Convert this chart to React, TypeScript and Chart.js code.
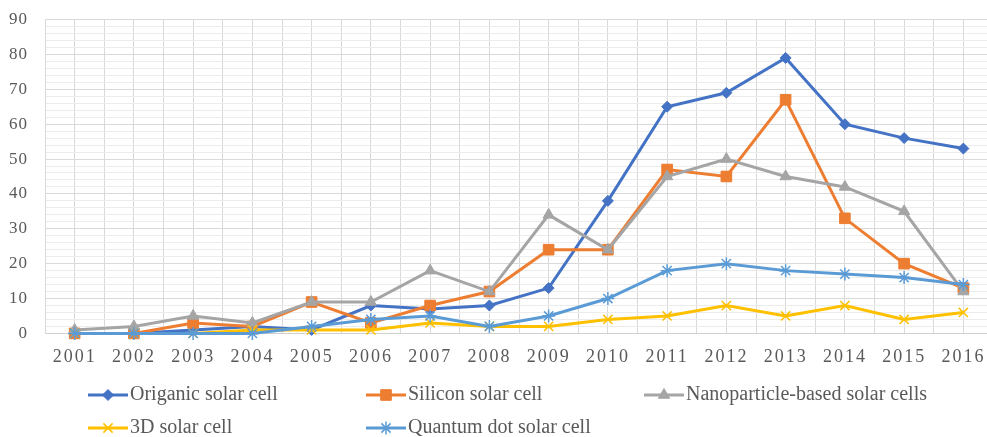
import React, { useEffect, useRef } from 'react';
import { Chart, registerables } from 'chart.js';
import { drawPoint } from 'chart.js/helpers';

Chart.register(...registerables);

const years = [2001, 2002, 2003, 2004, 2005, 2006, 2007, 2008, 2009, 2010, 2011, 2012, 2013, 2014, 2015, 2016];
const organic = [0, 0, 1, 2, 1, 8, 7, 8, 13, 38, 65, 69, 79, 60, 56, 53];
const silicon = [0, 0, 3, 2, 9, 3, 8, 12, 24, 24, 47, 45, 67, 33, 20, 13];
const nanoparticle = [1, 2, 5, 3, 9, 9, 18, 12, 34, 24, 45, 50, 45, 42, 35, 12];
const solar3d = [0, 0, 0, 1, 1, 1, 3, 2, 2, 4, 5, 8, 5, 8, 4, 6];
const quantumDot = [0, 0, 0, 0, 2, 4, 5, 2, 5, 10, 18, 20, 18, 17, 16, 14];
const seriesNames = [
  'Origanic solar cell',
  'Silicon solar cell',
  'Nanoparticle-based solar cells',
  '3D solar cell',
  'Quantum dot solar cell',
];
const yMin = 0;
const yMax = 90;
const yMajorStep = 10;

const legendPos = [
  { x: 88, y: 395 },
  { x: 366, y: 395 },
  { x: 644, y: 395 },
  { x: 88, y: 428 },
  { x: 366, y: 428 },
];

const toPoints = (vals: number[]) => years.map((yr, i) => ({ x: yr, y: vals[i] }));

const legendPlugin = {
  id: 'customLegend',
  beforeDraw(chart: any) {
    const patch = (scale: any, spacing: string) => {
      if (!scale || scale._lsPatched) return;
      const orig = scale.drawLabels.bind(scale);
      scale.drawLabels = (area: any) => {
        const c = chart.ctx;
        c.save();
        (c as any).letterSpacing = spacing;
        orig(area);
        c.restore();
      };
      scale._lsPatched = true;
    };
    patch(chart.scales.x, '2px');
    patch(chart.scales.y, '1px');
  },
  afterDraw(chart: any) {
    const ctx = chart.ctx;
    chart.data.datasets.forEach((ds: any, i: number) => {
      const p = legendPos[i];
      ctx.save();
      ctx.strokeStyle = ds.borderColor;
      ctx.lineWidth = 3;
      ctx.beginPath();
      ctx.moveTo(p.x, p.y);
      ctx.lineTo(p.x + 40, p.y);
      ctx.stroke();
      ctx.fillStyle = ds.pointBackgroundColor;
      ctx.strokeStyle = ds.pointBorderColor;
      ctx.lineWidth = ds.pointBorderWidth;
      drawPoint(ctx, { pointStyle: ds.pointStyle, radius: ds.pointRadius, rotation: 0, borderWidth: ds.pointBorderWidth } as any, p.x + 20, p.y);
      ctx.fillStyle = '#595959';
      ctx.font = '20px "Liberation Serif"';
      ctx.textBaseline = 'middle';
      ctx.textAlign = 'left';
      ctx.fillText(ds.label, p.x + 42, p.y);
      ctx.restore();
    });
  },
};

export default function App() {
  const ref = useRef<HTMLCanvasElement>(null);
  useEffect(() => {
    if (!ref.current) return;
    const mk = (label: string, vals: number[], color: string, style: string, radius: number, pbw: number, idx: number) => ({
      label,
      data: toPoints(vals),
      borderColor: color,
      backgroundColor: color,
      borderWidth: 3,
      pointStyle: style,
      pointRadius: radius,
      pointBackgroundColor: color,
      pointBorderColor: color,
      pointBorderWidth: pbw,
      tension: 0,
      clip: false as any,
      order: -idx,
    });
    const chart = new Chart(ref.current, {
      type: 'line',
      data: {
        datasets: [
          mk(seriesNames[0], organic, '#4472C4', 'rectRot', 5.5, 1, 0),
          mk(seriesNames[1], silicon, '#ED7D31', 'rect', 7.5, 1, 1),
          mk(seriesNames[2], nanoparticle, '#A5A5A5', 'triangle', 6.5, 1, 2),
          mk(seriesNames[3], solar3d, '#FFC000', 'crossRot', 6.5, 1.5, 3),
          mk(seriesNames[4], quantumDot, '#5B9BD5', 'star', 6.5, 1.5, 4),
        ] as any,
      },
      options: {
        animation: false,
        responsive: false,
        layout: { padding: { top: 0, right: 0, bottom: 56, left: 0 } },
        plugins: { legend: { display: false }, tooltip: { enabled: false } },
        scales: {
          x: {
            type: 'linear',
            min: years[0] - 0.5,
            max: years[years.length - 1] + 0.5,
            grid: { color: '#d9d9d9', drawTicks: false, lineWidth: 1 },
            border: { color: '#d0d0d0' },
            ticks: {
              stepSize: 0.5,
              autoSkip: false,
              maxRotation: 0,
              padding: 13,
              color: '#595959',
              font: { family: '"Liberation Serif"', size: 18 },
              callback: (v: any) => (Math.abs(v - Math.round(v)) < 1e-6 ? String(Math.round(v)) : ''),
            },
          },
          y: {
            min: yMin,
            max: yMax,
            grid: {
              drawTicks: false,
              color: (c: any) => (c.tick && Math.abs(c.tick.value % yMajorStep) < 1e-6 ? '#d9d9d9' : '#ececec'),
            },
            border: { color: '#d9d9d9' },
            afterFit: (s: any) => { s.width = 45; },
            ticks: {
              stepSize: 2,
              autoSkip: false,
              padding: 17,
              color: '#595959',
              font: { family: '"Liberation Serif"', size: 17, lineHeight: 0.3 },
              callback: (v: any) => (Math.abs(v % yMajorStep) < 1e-6 ? String(v) : ''),
            },
          },
        },
      } as any,
      plugins: [legendPlugin],
    });
    return () => chart.destroy();
  }, []);
  return (
    <div style={{ position: 'fixed', left: 0, top: 0, width: 987, height: 437, overflow: 'hidden', background: '#fff' }}>
      <canvas ref={ref} width={1006} height={437} style={{ display: 'block' }} />
    </div>
  );
}
